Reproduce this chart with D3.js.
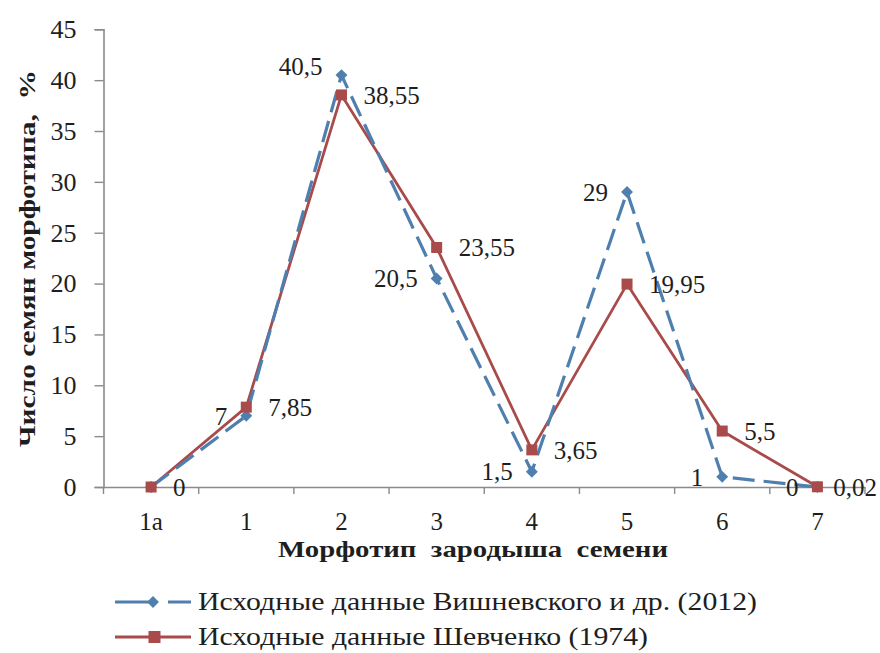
<!DOCTYPE html>
<html>
<head>
<meta charset="utf-8">
<script src="https://cdn.jsdelivr.net/npm/d3@7"></script>
<style>
  html, body { margin: 0; padding: 0; background: #fff; }
  svg { display: block; }
  svg text { font-family: 'Liberation Serif', serif !important; fill: #1e1e1e; }
</style>
</head>
<body>
<svg id="chart" width="880" height="653"></svg>
<script>
// ---- data ----
const categories = ["1a", "1", "2", "3", "4", "5", "6", "7"];
const vishnevsky = [0, 7, 40.5, 20.5, 1.5, 29, 1, 0];
const shevchenko = [0, 7.85, 38.55, 23.55, 3.65, 19.95, 5.5, 0.02];
const yTicks = [0, 5, 10, 15, 20, 25, 30, 35, 40, 45];
const seriesNames = ["Исходные данные Вишневского и др. (2012)", "Исходные данные Шевченко (1974)"];
const xTitle = "Морфотип  зародыша  семени";
const yTitle = "Число семян морфотипа,  %";

// ---- layout ----
const W = 880, H = 653;
const mLeft = 103.5, mRight = 865, mTop = 29.3, mBottom = 487;
const blue = "#4f7fae", red = "#a84b4a";
const FONT = "'Liberation Serif', serif";
const fmt = v => String(v).replace(".", ",");

const svg = d3.select("#chart");
svg.append("rect").attr("width", W).attr("height", H).attr("fill", "#fff");

const x = d3.scaleBand().domain(categories).range([mLeft, mRight]).paddingInner(0).paddingOuter(0);
const y = d3.scaleLinear().domain([0, 45]).range([mBottom, mTop]);
const cx = c => x(c) + x.bandwidth() / 2;

// y axis
const yAxis = d3.axisLeft(y).tickValues(yTicks).tickSize(9).tickPadding(18).tickFormat(d => d);
const gy = svg.append("g").attr("transform", `translate(${mLeft},0)`).call(yAxis);
gy.attr("font-family", FONT);
gy.select(".domain").attr("stroke", "#8a8a8a").attr("stroke-width", 1.6);
gy.selectAll(".tick line").attr("stroke", "#8a8a8a").attr("stroke-width", 1.4);
gy.selectAll(".tick text").style("font-size", "26px").attr("fill", "#222");

// x axis (labels)
const xAxis = d3.axisBottom(x).tickSize(0).tickPadding(25);
const gx = svg.append("g").attr("transform", `translate(0,${mBottom})`).call(xAxis);
gx.attr("font-family", FONT);
gx.select(".domain").attr("stroke", "#8a8a8a").attr("stroke-width", 1.6);
gx.selectAll(".tick text").style("font-size", "25px").attr("fill", "#222");
// x tick marks at band boundaries
const bounds = d3.range(categories.length + 1).map(i => x.range()[0] + i * x.step());
svg.append("g").selectAll("line").data(bounds).join("line")
  .attr("x1", d => d).attr("x2", d => d).attr("y1", mBottom).attr("y2", mBottom + 7)
  .attr("stroke", "#8a8a8a").attr("stroke-width", 1.4);

// axis titles
svg.append("text").attr("x", 278).attr("y", 557).attr("text-anchor", "start")
  .style("font-size", "24px").attr("font-weight", "bold").attr("fill", "#1a1a1a")
  .attr("textLength", 390).attr("lengthAdjust", "spacingAndGlyphs")
  .style("white-space", "pre").text(xTitle);
svg.append("text").attr("transform", "translate(35,447) rotate(-90)").attr("text-anchor", "start")
  .style("font-size", "24px").attr("font-weight", "bold").attr("fill", "#1a1a1a")
  .attr("textLength", 377).attr("lengthAdjust", "spacingAndGlyphs")
  .style("white-space", "pre").text(yTitle);

// lines
const line = d3.line().x((d, i) => cx(categories[i])).y(d => y(d));
svg.append("path").datum(shevchenko).attr("d", line).attr("fill", "none")
  .attr("stroke", red).attr("stroke-width", 2.8).attr("stroke-linejoin", "round");
svg.append("path").datum(vishnevsky).attr("d", line).attr("fill", "none")
  .attr("stroke", blue).attr("stroke-width", 3.2).attr("stroke-dasharray", "22,9");

// markers
const diamond = d3.symbol().type(d3.symbolDiamond2).size(90);
svg.append("g").selectAll("path").data(vishnevsky).join("path")
  .attr("d", diamond).attr("fill", blue)
  .attr("transform", (d, i) => `translate(${cx(categories[i])},${y(d)})`);
svg.append("g").selectAll("rect").data(shevchenko).join("rect")
  .attr("x", (d, i) => cx(categories[i]) - 5.5).attr("y", d => y(d) - 5.5)
  .attr("width", 11).attr("height", 11).attr("fill", red);

// data labels
const maxV = d3.max(vishnevsky);
const blueLabels = vishnevsky.map((v, i) => ({ v, c: categories[i] })).slice(1);
svg.append("g").selectAll("text").data(blueLabels).join("text")
  .attr("x", d => cx(d.c) - 19)
  .attr("y", d => y(d.v) - (d.v === maxV ? 9 : 0))
  .attr("dy", "0.35em").attr("text-anchor", "end")
  .style("font-size", "25px")
  .text(d => fmt(d.v));
const redLabels = shevchenko.map((v, i) => ({ v, c: categories[i] }));
svg.append("g").selectAll("text").data(redLabels).join("text")
  .attr("y", d => y(d.v))
  .attr("dy", "0.35em").attr("text-anchor", "start")
  .style("font-size", "25px")
  .text(d => fmt(d.v))
  .attr("x", function(d) {
    const wdt = this.getComputedTextLength();
    return Math.min(cx(d.c) + 22, W - wdt - 3);
  });

// legend
const lg = svg.append("g");
const legendRows = [
  { name: seriesNames[0], color: blue, y: 602, dashed: true, len: 559 },
  { name: seriesNames[1], color: red, y: 637, dashed: false, len: 450 }
];
legendRows.forEach(r => {
  lg.append("line").attr("x1", 115).attr("x2", 191).attr("y1", r.y).attr("y2", r.y)
    .attr("stroke", r.color).attr("stroke-width", r.dashed ? 3.2 : 2.8)
    .attr("stroke-dasharray", r.dashed ? "40,13" : null);
  if (r.dashed) {
    lg.append("path").attr("d", diamond).attr("fill", r.color)
      .attr("transform", `translate(153,${r.y})`);
  } else {
    lg.append("rect").attr("x", 148.5).attr("y", r.y - 6).attr("width", 12).attr("height", 12).attr("fill", r.color);
  }
  lg.append("text").attr("x", 198).attr("y", r.y).attr("dy", "0.33em")
    .style("font-size", "25px")
    .attr("textLength", r.len).attr("lengthAdjust", "spacingAndGlyphs")
    .text(r.name);
});
</script>
</body>
</html>
